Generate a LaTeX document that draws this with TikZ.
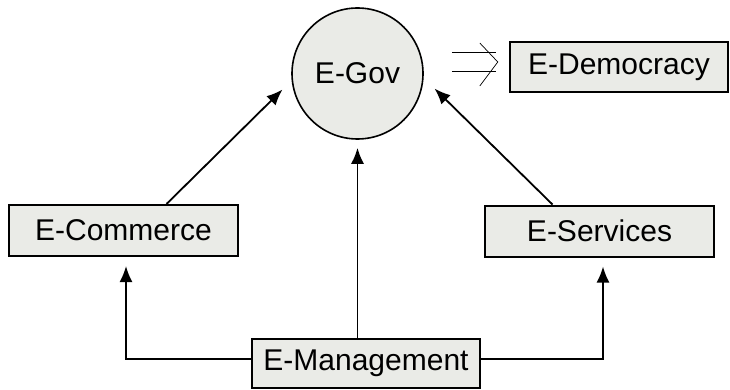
\documentclass[tikz,border=0pt]{standalone}
\usepackage{fontspec}
\setmainfont{Liberation Sans}
\usetikzlibrary{calc}
\usetikzlibrary{arrows.meta}
\definecolor{boxgray}{RGB}{234,235,231}

\begin{document}
\begin{tikzpicture} [x=1pt, y=-1pt,
  every node/.style={font=\fontsize{30}{34}\selectfont},
  egbox/.style={draw, line width=2pt, fill=boxgray, minimum width=229pt, minimum height=51pt, inner sep=0pt},
  egarrow/.style={line width=1.8pt, -{Latex[length=16pt,width=13pt]}}]
\useasboundingbox (0,0) rectangle (730,390);
\node[circle, draw, line width=1.6pt, fill=boxgray, minimum size=131pt, inner sep=0pt] (egov) at (357.5,73.5) {E-Gov};
\node[egbox, minimum width=218pt, minimum height=50pt] (edem) at (619,67) {E-Democracy};
\node[egbox] (ecom) at (123.5,230.5) {E-Commerce};
\node[egbox] (eserv) at (599.5,231) {E-Services};
\node[egbox, minimum width=228pt, minimum height=49pt] (emgmt) at (366,363.5) {E-Management};
% implies sign between E-Gov and E-Democracy
\coordinate (imp) at ($(egov.east)+(28,-21.5)$);
\draw[line width=0.7pt] (imp) --++(44,0);
\draw[line width=0.7pt] ($(imp)+(0,19)$) --++(44,0);
\draw[line width=0.7pt] ($(imp)+(28,-9)$) --++(18,19) --++(-18,24);
% arrows up to E-Gov
\draw[egarrow] ($(ecom.north)+(43,0)$) -- ($(egov.center)+(-75,16)$);
\draw[egarrow] ($(eserv.north)+(-47,0)$) -- ($(egov.center)+(77,15)$);
\draw[egarrow, shorten >=8pt] (egov |- emgmt.north) -- (egov.south);
% E-Management feeds both sides
\draw[egarrow, shorten >=9pt] (emgmt.west |- 0,359) -| (126,0 |- ecom.south);
\draw[egarrow, shorten >=9pt] (emgmt.east |- 0,359) -| (603,0 |- eserv.south);
\end{tikzpicture}
\end{document}
